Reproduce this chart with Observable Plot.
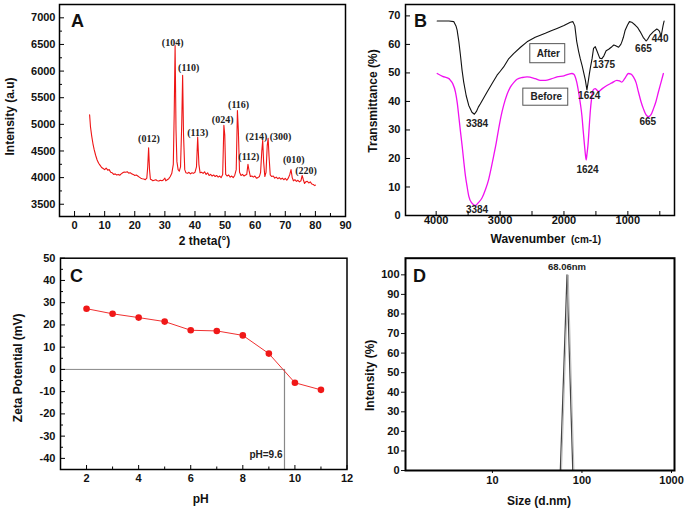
<!DOCTYPE html>
<html><head><meta charset="utf-8">
<script src="https://cdn.jsdelivr.net/npm/d3@7"></script>
<script src="https://cdn.jsdelivr.net/npm/@observablehq/plot@0.6"></script>
<style>
body{margin:0;background:#fff;}
#wrap{position:relative;width:685px;height:509px;overflow:hidden;background:#fff;}
.panel{position:absolute;}
</style></head><body><div id="wrap"></div>
<script>
// ---------- Panel A: XRD ----------
const xrdTheta = [5.0,5.3,5.7,6.1,6.5,7.0,7.5,8.0,8.5,9.0,9.5,10.0,10.5,11.0,11.5,12.0,12.5,13.0,13.5,14.0,14.5,15.0,15.5,16.0,16.5,17.0,17.5,18.0,18.5,19.0,19.5,20.0,20.5,21.0,21.5,22.0,22.5,23.0,23.5,24.0,24.3,24.6,24.9,25.2,25.6,26.0,26.5,27.0,27.5,28.0,28.5,29.0,29.5,30.0,30.3,30.8,31.3,31.8,32.3,32.8,33.1,33.4,33.7,34.0,34.4,34.8,35.2,35.6,35.9,36.2,36.6,37.0,37.5,38.0,38.5,39.0,39.5,40.0,40.5,40.9,41.3,41.7,42.2,42.7,43.2,43.7,44.2,44.7,45.2,45.7,46.2,46.7,47.2,47.7,48.2,48.7,49.2,49.6,49.9,50.2,50.7,51.2,51.7,52.2,52.7,53.2,53.7,54.1,54.4,54.8,55.3,55.8,56.3,56.8,57.2,57.6,58.0,58.4,58.9,59.4,59.9,60.4,60.9,61.4,61.8,62.2,62.5,62.8,63.2,63.6,64.0,64.3,64.6,65.0,65.5,66.0,66.5,67.0,67.5,68.0,68.5,69.0,69.5,70.0,70.5,71.0,71.5,71.9,72.3,72.7,73.2,73.7,74.2,74.7,75.2,75.6,76.0,76.4,76.8,77.3,77.8,78.3,78.8,79.3,79.8,80.0];
const xrdIntensity = [5180,4950,4780,4640,4530,4420,4330,4270,4230,4190,4170,4150,4180,4140,4150,4100,4090,4060,4070,4050,4060,4045,4070,4090,4105,4100,4110,4085,4090,4070,4060,4040,4050,4030,4010,3990,3980,3975,3960,3990,4200,4560,4150,3970,3960,3940,3950,3960,3940,3935,3950,3940,3955,3990,3940,3960,3980,4020,4080,4250,5200,6480,4900,4300,4150,4120,4200,5000,5920,4800,4150,4090,4080,4100,4070,4090,4080,4100,4200,4760,4250,4090,4100,4080,4110,4060,4090,4040,4060,4030,4050,4020,4040,4010,4030,4000,4060,4980,4800,4060,4030,4050,4010,4030,4000,4040,4150,5260,4900,4100,4040,4060,4030,4050,4060,4250,4120,4020,4030,4010,4030,3990,4000,4020,4100,4500,4700,4300,4020,4100,4600,4740,4400,4050,4020,4030,3990,4010,3980,4000,3970,3990,3960,3985,3950,3990,4060,4150,4000,3940,3960,3930,3950,3920,3940,4040,3960,3890,3920,3930,3900,3920,3880,3870,3850,3860];
const hklLabels = ["(012)","(104)","(110)","(113)","(024)","(116)","(112)","(214)","(300)","(010)","(220)"];
const hklTheta  = [24.7,32.6,37.9,40.9,49.2,54.5,57.9,60.4,68.4,72.8,76.9];
const hklInt    = [4731,6531,6055,4836,5093,5374,4387,4775,4775,4337,4124];
const thetaMajor = [0,10,20,30,40,50,60,70,80,90];
const thetaMinor = [5,15,25,35,45,55,65,75,85];
const intMajor = [3500,4000,4500,5000,5500,6000,6500,7000];
const intMinor = [3750,4250,4750,5250,5750,6250,6750];

// ---------- Panel B: FTIR ----------
const afterWave = [3984,3800,3725,3690,3672,3645,3620,3595,3569,3530,3490,3440,3402,3370,3340,3308,3250,3203,3120,3047,3000,2944,2870,2788,2680,2578,2450,2370,2292,2200,2109,2000,1900,1860,1830,1800,1770,1745,1715,1693,1665,1641,1620,1600,1589,1560,1537,1510,1480,1440,1406,1375,1340,1300,1250,1220,1198,1145,1110,1094,1070,1042,1005,975,940,886,850,808,760,714,690,652,600,547,520,505,490,484,470,450,433];
const afterT = [68.2,68.2,68.0,66.5,65,61,56.2,51,46.8,42,38.6,36.2,35.5,36.5,38.0,39.2,41.5,43.3,46.5,49.2,50.5,52.1,54.8,56.8,59.0,60.9,62.5,63.2,63.9,64.8,65.6,66.6,67.8,68.0,66.5,61,57.5,55,52.5,50.3,47.5,44,47,50,51.5,55,58.6,59.2,57.5,55.2,55.0,56.0,57.8,58.3,59.2,59.8,59.6,59.0,60.0,60.9,62.5,65.0,66.8,68.0,67.8,66.8,66.0,64.5,62.5,61.2,61.8,63.3,64.5,65.4,65.0,64.6,63.5,62.7,64,66.5,68.2];
const beforeWave = [3984,3900,3800,3777,3740,3698,3670,3647,3620,3594,3568,3542,3515,3490,3440,3400,3386,3340,3281,3230,3178,3140,3100,3060,3022,2985,2944,2890,2839,2780,2734,2650,2578,2450,2370,2292,2200,2109,2000,1920,1875,1845,1823,1800,1771,1745,1719,1698,1678,1665,1652,1640,1625,1605,1589,1568,1547,1511,1485,1459,1400,1328,1250,1172,1130,1094,1050,991,950,913,870,834,795,756,715,678,640,600,560,522,480,444];
const beforeT = [49.8,48.8,48.0,47.4,46.2,43.3,39.5,35,29.5,24.5,19,13.9,10,6.8,4.3,3.6,3.5,4.5,6.2,9.0,12.7,16.5,20.9,25.5,30.4,34.8,38.6,42.5,45,46.8,47.8,48.4,48.6,48.0,47.4,47.4,47.9,48.6,49.0,49.6,49.8,49.5,48.6,46.8,43.3,39.5,35,29.5,24.5,21.5,19.5,21.5,24.5,31,36.2,41,43.9,44.5,44.0,43.5,44.5,45.6,46.5,47.4,47.2,46.8,48.0,49.8,49.6,48.6,46.5,43.3,40.0,37.4,35.3,34.7,35.3,37.4,40.0,43.3,46.8,49.8];
const peakLabels = ["3384","3384","1624","1624","1375","665","440","665"];
const peakWave   = [3360,3360,1631,1605,1375,756,495,688];
const peakT      = [32.1,2.1,16.2,42.1,52.7,58.3,61.9,32.7];
const seriesNames = ["After","Before"];
const nameWave = [2245,2277];
const nameT = [56.6,41.8];
const boxW1 = [2527,2636], boxW2 = [1980,1933], boxT1 = [60.1,44.5], boxT2 = [53.4,38.5];
const waveTicks = [4000,3500,3000,2500,2000,1500,1000,500];
const waveLabels = [4000,3000,2000,1000];
const transTicks = [0,10,20,30,40,50,60,70];

// ---------- Panel C: Zeta potential ----------
const pH = [2,3,4,5,6,7,8,9,10,11];
const zeta = [27.3,25,23.3,21.5,17.6,17.3,15.3,7.1,-6,-9.2];
const iep = 9.6;
const iepLabel = "pH=9.6";
const pHMajor = [2,4,6,8,10,12];
const pHMinor = [3,5,7,9,11];
const zetaMajor = [-40,-30,-20,-10,0,10,20,30,40,50];
const zetaMinor = [-45,-35,-25,-15,-5,5,15,25,35,45];

// ---------- Panel D: DLS size ----------
const sizeNm = [57.3,68.06,78.9];
const sizeInt = [0,100,0];
const sizePeakLabel = "68.06nm";
const sizeTicks = [10,100,1000];
const sizeIntTicks = [0,10,20,30,40,50,60,70,80,90,100];

// ---------- drawing ----------
const FONT = "'Liberation Sans', Arial, sans-serif";
const baseStyle = {fontFamily: FONT, fontSize: "11px", fontWeight: "bold", color: "#111", background: "transparent", overflow: "visible"};
const fmt = d => String(d);
const wrap = document.getElementById("wrap");
function place(svg, left, top) {
  const d = document.createElement("div");
  d.className = "panel"; d.style.left = left + "px"; d.style.top = top + "px";
  d.appendChild(svg); wrap.appendChild(d);
}
function inTicksX(vals, len, fh) { return Plot.tickX(vals, {x: d => d, insetTop: fh - len, stroke: "#000", strokeWidth: 1}); }
function inTicksY(vals, len, fw) { return Plot.tickY(vals, {y: d => d, insetRight: fw - len, stroke: "#000", strokeWidth: 1}); }
function title(t, opts) { return Plot.text([t], {text: d => d, textAnchor: "middle", lineAnchor: "middle", fontSize: 12, fill: "#111", ...opts}); }

// Panel A
{
  const W = 350, H = 250, ml = 59, mr = 5, mt = 4, mb = 34;
  const fw = W - ml - mr, fh = H - mt - mb;
  const svg = Plot.plot({
    width: W, height: H, marginLeft: ml, marginRight: mr, marginTop: mt, marginBottom: mb,
    style: baseStyle,
    x: {domain: [-5, 90], label: null},
    y: {domain: [3270, 7250], label: null},
    marks: [
      Plot.line(xrdTheta, {x: d => d, y: (d, i) => xrdIntensity[i], stroke: "#ee1515", strokeWidth: 1.1}),
      Plot.text(hklLabels, {x: (d, i) => hklTheta[i], y: (d, i) => hklInt[i], text: d => d, fontFamily: "'Liberation Serif', 'Times New Roman', serif", fontSize: 10, fontWeight: "bold", fill: "#222"}),
      inTicksX(thetaMajor, 5, fh), inTicksX(thetaMinor, 3, fh),
      inTicksY(intMajor, 5, fw), inTicksY(intMinor, 3, fw),
      Plot.axisX({ticks: thetaMajor, tickSize: 0, tickPadding: 5, tickFormat: fmt, label: null}),
      Plot.axisY({ticks: intMajor, tickSize: 0, tickPadding: 4, tickFormat: fmt, label: null}),
      Plot.frame({stroke: "#000", strokeWidth: 1.5}),
      title("A", {frameAnchor: "top-left", dx: 18, dy: 17, fontSize: 18}),
      title("2 theta(°)", {frameAnchor: "bottom", dx: 2, dy: 25}),
      title("Intensity (a.u)", {frameAnchor: "left", rotate: -90, dx: -49, dy: 6})
    ]
  });
  place(svg, 0, 0);
}

// Panel B
{
  const W = 340, H = 250, ml = 60, mr = 11, mt = 4, mb = 35;
  const fw = W - ml - mr, fh = H - mt - mb;
  const svg = Plot.plot({
    width: W, height: H, marginLeft: ml, marginRight: mr, marginTop: mt, marginBottom: mb,
    style: baseStyle,
    x: {domain: [4480, 270], label: null},
    y: {domain: [0, 74], label: null},
    marks: [
      Plot.line(beforeWave, {x: d => d, y: (d, i) => beforeT[i], stroke: "#f010f0", strokeWidth: 1.3, curve: "monotone-x"}),
      Plot.line(afterWave, {x: d => d, y: (d, i) => afterT[i], stroke: "#111", strokeWidth: 1.1}),
      Plot.rect(seriesNames, {x1: (d, i) => boxW1[i], x2: (d, i) => boxW2[i], y1: (d, i) => boxT1[i], y2: (d, i) => boxT2[i], fill: "#fff", stroke: "#555", strokeWidth: 1}),
      Plot.text(seriesNames, {x: (d, i) => nameWave[i], y: (d, i) => nameT[i], text: d => d, fontSize: 10, fill: "#222"}),
      Plot.text(peakLabels, {x: (d, i) => peakWave[i], y: (d, i) => peakT[i], text: d => d, fontSize: 10, fill: "#222"}),
      inTicksX(waveTicks, 4, fh),
      inTicksY(transTicks, 5, fw),
      Plot.axisX({ticks: waveLabels, tickSize: 0, tickPadding: 1, tickFormat: fmt, label: null}),
      Plot.axisY({ticks: transTicks, tickSize: 0, tickPadding: 5, tickFormat: fmt, label: null}),
      Plot.frame({stroke: "#000", strokeWidth: 1.5}),
      title("B", {frameAnchor: "top-left", dx: 15, dy: 17, fontSize: 18}),
      Plot.text(["Wavenumber"], {frameAnchor: "bottom", dx: -12, dy: 24, text: d => d, fontSize: 12, letterSpacing: "0.6px", fill: "#111", textAnchor: "middle", lineAnchor: "middle"}),
      Plot.text(["(cm-1)"], {frameAnchor: "bottom", dx: 46, dy: 24.5, text: d => d, fontSize: 10, fill: "#111", textAnchor: "middle", lineAnchor: "middle"}),
      title("Transmittance (%)", {frameAnchor: "left", rotate: -90, dx: -32, dy: -9})
    ]
  });
  place(svg, 345, 0);
}

// Panel C
{
  const W = 350, H = 264, ml = 60, mr = 3.5, mt = 12.7, mb = 40;
  const fw = W - ml - mr, fh = H - mt - mb;
  const yDom = [-45, 50], xDom = [1, 12];
  const svg = Plot.plot({
    width: W, height: H, marginLeft: ml, marginRight: mr, marginTop: mt, marginBottom: mb,
    style: baseStyle,
    x: {domain: xDom, label: null},
    y: {domain: yDom, label: null},
    marks: [
      Plot.ruleY([0], {x1: xDom[0], x2: iep, stroke: "#888", strokeWidth: 1}),
      Plot.ruleX([iep], {y1: yDom[0], y2: 0, stroke: "#888", strokeWidth: 1.2}),
      Plot.line(pH, {x: d => d, y: (d, i) => zeta[i], stroke: "#f03030", strokeWidth: 1}),
      Plot.dot(pH, {x: d => d, y: (d, i) => zeta[i], fill: "#f01818", r: 3.3}),
      Plot.text([iepLabel], {x: iep, y: -38.2, text: d => d, textAnchor: "end", dx: -2, fontSize: 10, fill: "#222"}),
      inTicksX(pHMajor, 4, fh), inTicksX(pHMinor, 2.5, fh),
      inTicksY(zetaMajor, 5, fw), inTicksY(zetaMinor, 3, fw),
      Plot.axisX({ticks: pHMajor, tickSize: 0, tickPadding: 4.5, tickFormat: fmt, label: null}),
      Plot.axisY({ticks: zetaMajor, tickSize: 0, tickPadding: 5, tickFormat: fmt, label: null}),
      Plot.frame({stroke: "#000", strokeWidth: 1.5}),
      title("C", {frameAnchor: "top-left", dx: 16, dy: 18, fontSize: 18}),
      title("pH", {frameAnchor: "bottom", dx: -3, dy: 30}),
      title("Zeta Potential (mV)", {frameAnchor: "left", rotate: -90, dx: -42, dy: 4})
    ]
  });
  place(svg, 0, 245);
}

// Panel D
{
  const W = 340, H = 264, ml = 60, mr = 11, mt = 12.7, mb = 39;
  const svg = Plot.plot({
    width: W, height: H, marginLeft: ml, marginRight: mr, marginTop: mt, marginBottom: mb,
    style: baseStyle,
    x: {type: "log", domain: [1.07, 1080], label: null},
    y: {domain: [0, 108.5], label: null},
    marks: [
      Plot.line(sizeNm, {x: d => d, y: (d, i) => sizeInt[i], stroke: "#444", strokeWidth: 1.2}),
      Plot.line(sizeNm, {x: d => d, y: (d, i) => sizeInt[i], stroke: "#aaa", strokeWidth: 0.8, dx: 1.2}),
      Plot.text([sizePeakLabel], {x: sizeNm[1], y: 103.9, text: d => d, fontSize: 9.5, fill: "#222"}),
      Plot.axisX({ticks: sizeTicks, tickSize: 3, tickPadding: 3, tickFormat: fmt, label: null}),
      Plot.axisY({ticks: sizeIntTicks, tickSize: 4, tickPadding: 2, tickFormat: fmt, label: null}),
      Plot.frame({stroke: "#000", strokeWidth: 2}),
      title("D", {frameAnchor: "top-left", dx: 14, dy: 18, fontSize: 18}),
      title("Size (d.nm)", {frameAnchor: "bottom", dx: -1, dy: 31}),
      title("Intensity (%)", {frameAnchor: "left", rotate: -90, dx: -35, dy: 11})
    ]
  });
  place(svg, 345, 245);
}
</script></body></html>
